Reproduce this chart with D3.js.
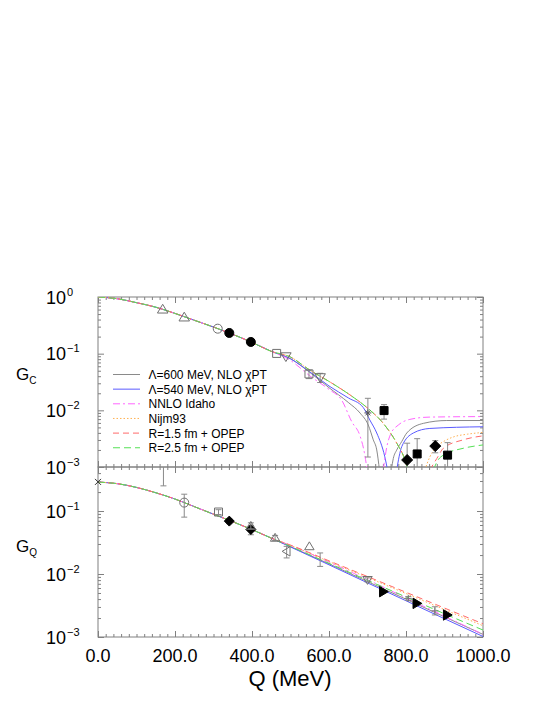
<!DOCTYPE html>
<html><head><meta charset="utf-8">
<script src="https://cdn.jsdelivr.net/npm/d3@7"></script>
<style>body{margin:0;background:#fff}svg{display:block;font-family:"Liberation Sans",Arial,Helvetica,sans-serif}</style>
</head><body><svg id="c" width="545" height="705"></svg>
<script>
// ---------------- DATA ----------------
const xTickValues = [0, 200, 400, 600, 800, 1000];
const xTickLabels = ["0.0", "200.0", "400.0", "600.0", "800.0", "1000.0"];
const yTopTicks = [1, 0.1, 0.01, 0.001];
const yTopExp = ["0", "\u22121", "\u22122", "\u22123"];
const yBotTicks = [0.1, 0.01, 0.001];
const yBotExp = ["\u22121", "\u22122", "\u22123"];
const legendLabels = ["\u039B=600 MeV, NLO \u03C7PT", "\u039B=540 MeV, NLO \u03C7PT", "NNLO Idaho", "Nijm93", "R=1.5 fm + OPEP", "R=2.5 fm + OPEP"];

// G_C theory curves: common low-Q part, then per-model left/right branches of |G_C|
const gcQCommon = [0, 50, 100, 150, 200, 250, 300, 350, 400, 450];
const gcCommon  = [1.0, 0.933, 0.794, 0.661, 0.513, 0.389, 0.295, 0.219, 0.158, 0.110];
const gcGrayL   = [[500,0.0813],[550,0.0468],[600,0.0251],[650,0.0138],[681,0.00891],[702,0.0055],[715,0.00302],[724,0.0020],[731,0.000891]];
const gcGrayR   = [[762,0.000891],[767,0.00141],[776,0.0020],[789,0.00282],[802,0.00398],[845,0.00589],[906,0.00661],[1000,0.00661]];
const gcBlueL   = [[500,0.0813],[550,0.0479],[600,0.0269],[650,0.0166],[689,0.0112],[706,0.00676],[724,0.00398],[745,0.00151],[752,0.000891]];
const gcBlueR   = [[776,0.000891],[782,0.00151],[789,0.00229],[819,0.00398],[862,0.00479],[1000,0.00513]];
const gcPinkL   = [[500,0.0759],[550,0.0407],[600,0.0234],[633,0.0151],[659,0.00631],[681,0.00347],[692,0.00178],[699,0.000891]];
const gcPinkR   = [[741,0.000891],[750,0.00224],[760,0.0038],[780,0.0055],[810,0.00692],[860,0.00759],[1000,0.00776]];
const gcOpepL   = [[500,0.0871],[550,0.0513],[600,0.0324],[655,0.0186],[702,0.0107],[741,0.00589],[776,0.00263],[797,0.00135],[805,0.000891]];
const gcOrangeR = [[849,0.000891],[862,0.00151],[880,0.00229],[900,0.00288],[923,0.00339],[960,0.0038],[1000,0.00407]];
const gcRedR    = [[862,0.000891],[880,0.00141],[897,0.00214],[949,0.00302],[1000,0.00355]];
const gcGreenR  = [[871,0.000891],[884,0.00135],[897,0.00162],[949,0.00214],[1000,0.00245]];

// G_Q theory curves
const gqQCommon = [0, 50, 100, 150, 200, 250, 300, 350, 400, 450];
const gqCommon  = [0.288, 0.272, 0.237, 0.195, 0.155, 0.1175, 0.0891, 0.0676, 0.0507, 0.0372];
const gqQTail   = [500, 600, 700, 800, 900, 1000];
const gqGray    = [0.0272, 0.0145, 0.00759, 0.00398, 0.00209, 0.0011];
const gqBlue    = [0.0269, 0.0140, 0.00724, 0.00376, 0.00195, 0.00102];
const gqPink    = [0.0285, 0.0155, 0.00813, 0.00417, 0.00214, 0.0011];
const gqOrange  = [0.0285, 0.0158, 0.00881, 0.0049, 0.00272, 0.00151];
const gqRed     = [0.0288, 0.0162, 0.00912, 0.00513, 0.00288, 0.00162];
const gqGreen   = [0.0275, 0.0148, 0.00794, 0.00432, 0.00234, 0.00129];

// G_C data: [Q, value, low, high]
const gcTriUp       = [[168,0.607],[224,0.44]];
const gcCircleOpen  = [[311,0.276]];
const gcCircleFill  = [[341,0.232],[397,0.161]];
const gcSquareOpen  = [[464,0.101],[548,0.0439,0.0363,0.0513]];
const gcTriDownOpen = [[488,0.089],[577,0.038,0.031,0.045]];
const gcStar        = [[701,0.0090,0.0015,0.0163]];
const gcSquareFill  = [[743,0.0099,0.0070,0.0126],[829,0.0017,0.0004,0.00316],[908,0.00162,0.0004,0.00269]];
const gcDiamondFill = [[803,0.00133,0.0004,0.00263],[876,0.00234,0.00178,0.00292]];

// G_Q data
const gqCross       = [[0,0.29]];
const gqHidden      = [[170,0.62,0.251,0.9]];
const gqCircleOpen  = [[224,0.136,0.080,0.185]];
const gqSquareOpen  = [[313,0.0964,0.088,0.105]];
const gqDiamondFill = [[341,0.0692,0.063,0.075],[397,0.0509,0.042,0.058]];
const gqTriUpOpen   = [[397,0.058,0.052,0.065],[460,0.0375,0.034,0.041],[549,0.0275]];
const gqTriLeftOpen = [[490,0.0229,0.018,0.0275]];
const gqBarOnly     = [[577,0.0174,0.0132,0.0216]];
const gqTriDownOpen = [[700,0.00807,0.0075,0.0087]];
const gqTriRightFill= [[741,0.00525],[828,0.00342],[907,0.00224]];
const gqPlus        = [[806,0.00411,0.0038,0.0044],[875,0.0026,0.00224,0.00302]];

// ---------------- STYLES ----------------
const colors = ["#8a8a8a", "#5a5aff", "#ff66ff", "#ffb050", "#ff6a6a", "#55e055"];
const dashes = [null, null, "7,3,2,3", "1.5,2", "6,4", "7,4"];
const frameColor = "#808080";
const openColor = "#707070";
const errColor = "#8a8a8a";

// ---------------- SCALES ----------------
const L = 98, R = 483, T1 = 297, M = 467, B2 = 637;
const x = d3.scaleLinear().domain([0, 1000]).range([L, R]);
const yC = d3.scaleLog().domain([1e-3, 1]).range([M, T1]);
const yQ = d3.scaleLog().domain([1e-3, 0.5]).range([B2, M]);

const svg = d3.select("#c");
const defs = svg.append("defs");
defs.append("clipPath").attr("id","clipC").append("rect").attr("x",L).attr("y",T1).attr("width",R-L).attr("height",M-T1);
defs.append("clipPath").attr("id","clipQ").append("rect").attr("x",L).attr("y",M).attr("width",R-L).attr("height",B2-M);

// ---------------- AXES / TICKS ----------------
const xMinor = d3.range(0, 1001, 20).filter(v => v % 200 !== 0);
function logMinor(lo, hi) {
  const out = [];
  for (let e = Math.floor(Math.log10(lo)); e <= 0; e++)
    for (let m = 2; m <= 9; m++) { const v = m * Math.pow(10, e); if (v > lo && v < hi) out.push(v); }
  return out;
}
function tickAxis(axis, tx, ty, vals, size) {
  svg.append("g").attr("transform", `translate(${tx},${ty})`)
    .call(axis.tickValues(vals).tickSize(size).tickSizeOuter(0).tickFormat(""))
    .call(g => g.select(".domain").remove())
    .call(g => g.selectAll("line").attr("stroke", frameColor).attr("stroke-width", 1));
}
// horizontal edges
tickAxis(d3.axisBottom(x), 0, T1, xTickValues, 6);
tickAxis(d3.axisBottom(x), 0, T1, xMinor, 3);
tickAxis(d3.axisTop(x), 0, M, xTickValues, 6);
tickAxis(d3.axisTop(x), 0, M, xMinor, 3);
tickAxis(d3.axisBottom(x), 0, M, xTickValues, 6);
tickAxis(d3.axisBottom(x), 0, M, xMinor, 3);
tickAxis(d3.axisTop(x), 0, B2, xTickValues, 6);
tickAxis(d3.axisTop(x), 0, B2, xMinor, 3);
// vertical edges
tickAxis(d3.axisRight(yC), L, 0, yTopTicks, 6);
tickAxis(d3.axisRight(yC), L, 0, logMinor(1e-3, 1), 3);
tickAxis(d3.axisLeft(yC), R, 0, yTopTicks, 6);
tickAxis(d3.axisLeft(yC), R, 0, logMinor(1e-3, 1), 3);
tickAxis(d3.axisRight(yQ), L, 0, yBotTicks, 6);
tickAxis(d3.axisRight(yQ), L, 0, logMinor(1e-3, 0.5), 3);
tickAxis(d3.axisLeft(yQ), R, 0, yBotTicks, 6);
tickAxis(d3.axisLeft(yQ), R, 0, logMinor(1e-3, 0.5), 3);

// frames
[[T1, M], [M, B2]].forEach(([a, b]) => {
  svg.append("rect").attr("x", L).attr("y", a).attr("width", R - L).attr("height", b - a)
    .attr("fill", "none").attr("stroke", frameColor).attr("stroke-width", 1);
});

// tick labels
const fs = 18;
xTickValues.forEach((v, i) => {
  svg.append("text").attr("x", x(v)).attr("y", 662).attr("text-anchor", "middle")
    .attr("font-size", fs).text(xTickLabels[i]);
});
function yLabel(yy, exp) {
  const t = svg.append("text").attr("x", 46).attr("y", yy + 6.5).attr("font-size", fs);
  t.append("tspan").text("10");
  t.append("tspan").attr("font-size", 11).attr("dy", -8).attr("dx", 1).text(exp);
}
yTopTicks.forEach((v, i) => yLabel(yC(v), yTopExp[i]));
yBotTicks.forEach((v, i) => yLabel(yQ(v), yBotExp[i]));

svg.append("text").attr("x", 290).attr("y", 686).attr("text-anchor", "middle").attr("font-size", 22).text("Q (MeV)");
function gLabel(yy, sub) {
  const t = svg.append("text").attr("x", 16).attr("y", yy).attr("font-size", 17);
  t.append("tspan").text("G");
  t.append("tspan").attr("font-size", 10).attr("dy", 4).text(sub);
}
gLabel(380, "C");
gLabel(552, "Q");

// ---------------- CURVES ----------------
function drawCurve(layer, pts, yS, i) {
  layer.append("path").datum(pts)
    .attr("d", d3.line().x(d => x(d[0])).y(d => yS(d[1])).curve(d3.curveMonotoneX))
    .attr("fill", "none").attr("stroke", colors[i]).attr("stroke-width", 1)
    .attr("stroke-dasharray", dashes[i]);
}
const gcCommonPts = gcQCommon.map((q, k) => [q, gcCommon[k]]);
const gcLayer = svg.append("g").attr("clip-path", "url(#clipC)");
const gcModels = [[gcGrayL, gcGrayR], [gcBlueL, gcBlueR], [gcPinkL, gcPinkR], [gcOpepL, gcOrangeR], [gcOpepL, gcRedR], [gcOpepL, gcGreenR]];
gcModels.forEach(([l, r], i) => {
  drawCurve(gcLayer, gcCommonPts.concat(l), yC, i);
  drawCurve(gcLayer, r, yC, i);
});
const gqLayer = svg.append("g").attr("clip-path", "url(#clipQ)");
const gqCommonPts = gqQCommon.map((q, k) => [q, gqCommon[k]]);
[gqGray, gqBlue, gqPink, gqOrange, gqRed, gqGreen].forEach((s, i) => {
  drawCurve(gqLayer, gqCommonPts.concat(gqQTail.map((q, k) => [q, s[k]])), yQ, i);
});

// ---------------- LEGEND ----------------
const legY0 = 374.5, legDy = 14.65;
legendLabels.forEach((lab, i) => {
  const yy = legY0 + i * legDy;
  svg.append("line").attr("x1", 113).attr("x2", 140).attr("y1", yy).attr("y2", yy)
    .attr("stroke", colors[i]).attr("stroke-width", 1).attr("stroke-dasharray", dashes[i]);
  svg.append("text").attr("x", 148.5).attr("y", yy + 4.4).attr("font-size", 12).text(lab);
});

// ---------------- MARKERS ----------------
const shapes = {
  triUp: s => `M0,${-s}L${s*1.05},${s*0.75}L${-s*1.05},${s*0.75}Z`,
  triDown: s => `M0,${s}L${s*1.05},${-s*0.75}L${-s*1.05},${-s*0.75}Z`,
  triRight: s => `M${s},0L${-s*0.75},${-s*1.05}L${-s*0.75},${s*1.05}Z`,
  triLeft: s => `M${-s},0L${s*0.75},${-s*1.05}L${s*0.75},${s*1.05}Z`,
  square: s => `M${-s},${-s}H${s}V${s}H${-s}Z`,
  diamond: s => `M0,${-s}L${s},0L0,${s}L${-s},0Z`,
  circle: s => `M${-s},0A${s},${s} 0 1,0 ${s},0A${s},${s} 0 1,0 ${-s},0Z`,
  cross: s => `M${-s},${-s}L${s},${s}M${-s},${s}L${s},${-s}`,
  plus: s => `M${-s},0H${s}M0,${-s}V${s}`,
  star: s => `M${-s},0H${s}M${-s*0.7},${-s*0.7}L${s*0.7},${s*0.7}M${-s*0.7},${s*0.7}L${s*0.7},${-s*0.7}M0,${-s}V${s}`,
  none: s => ""
};
function drawPoints(layer, data, yS, shape, size, filled, color) {
  data.forEach(d => {
    if (d.length > 2) {
      const xx = x(d[0]);
      const y1 = yS(d[2]), y2 = yS(d[3]);
      layer.append("path").attr("d", `M${xx},${y1}V${y2}M${xx-3},${y1}H${xx+3}M${xx-3},${y2}H${xx+3}`)
        .attr("stroke", errColor).attr("stroke-width", 1).attr("fill", "none");
    }
    layer.append("path").attr("transform", `translate(${x(d[0])},${yS(d[1])})`)
      .attr("d", shapes[shape](size))
      .attr("fill", filled ? color : "none").attr("stroke", color).attr("stroke-width", 1);
  });
}
const pC = svg.append("g").attr("clip-path", "url(#clipC)");
drawPoints(pC, gcTriUp, yC, "triUp", 5, false, openColor);
drawPoints(pC, gcCircleOpen, yC, "circle", 4.5, false, openColor);
drawPoints(pC, gcCircleFill, yC, "circle", 4.5, true, "#000");
drawPoints(pC, gcSquareOpen, yC, "square", 4, false, openColor);
drawPoints(pC, gcTriDownOpen, yC, "triDown", 5, false, openColor);
drawPoints(pC, gcStar, yC, "star", 3.5, false, "#555");
drawPoints(pC, gcSquareFill, yC, "square", 4, true, "#000");
drawPoints(pC, gcDiamondFill, yC, "diamond", 5.5, true, "#000");

const pQ = svg.append("g");
drawPoints(pQ, gqCross, yQ, "cross", 3, false, "#333");
const pQc = svg.append("g").attr("clip-path", "url(#clipQ)");
drawPoints(pQc, gqHidden, yQ, "circle", 4, false, openColor);
drawPoints(pQc, gqCircleOpen, yQ, "circle", 4.5, false, openColor);
drawPoints(pQc, gqSquareOpen, yQ, "square", 4, false, openColor);
drawPoints(pQc, gqDiamondFill, yQ, "diamond", 5, true, "#000");
drawPoints(pQc, gqTriUpOpen, yQ, "triUp", 4.5, false, openColor);
drawPoints(pQc, gqTriLeftOpen, yQ, "triLeft", 4.5, false, openColor);
drawPoints(pQc, gqBarOnly, yQ, "none", 3, false, openColor);
drawPoints(pQc, gqTriDownOpen, yQ, "triDown", 4.5, false, openColor);
drawPoints(pQc, gqTriRightFill, yQ, "triRight", 5, true, "#000");
drawPoints(pQc, gqPlus, yQ, "plus", 3.5, false, "#777");
</script></body></html>
